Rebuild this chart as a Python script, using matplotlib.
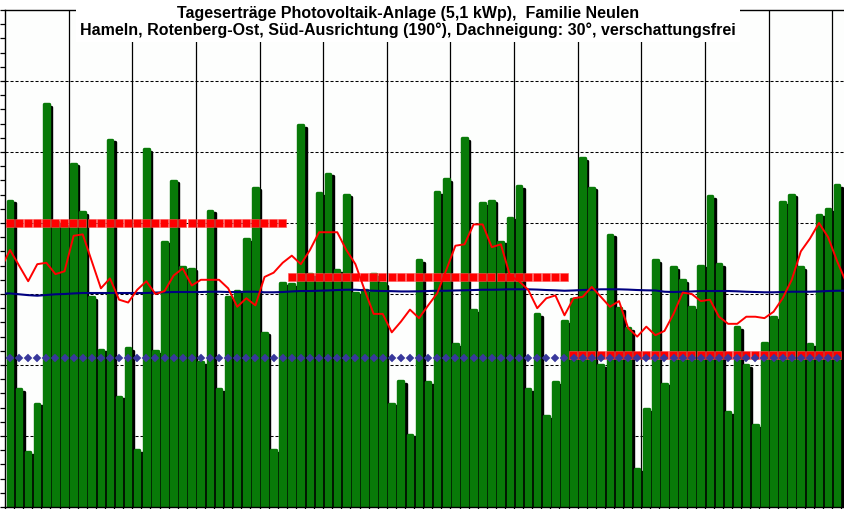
import matplotlib
matplotlib.use("Agg")
import matplotlib.pyplot as plt
import numpy as np

# ---------------- data (kWh per day, Jul-Sep) ----------------
daily_yield = [
    21.7, 8.4, 4.0, 7.4, 28.5, 20.2, 19.9, 24.3, 20.9, 14.9,
    11.2, 26.0, 7.9, 11.3, 4.1, 25.3, 11.1, 18.8, 23.1, 17.0,
    16.9, 10.3, 21.0, 8.4, 14.9, 15.3, 19.0, 22.6, 12.4, 4.1,
    15.9,
    15.8, 27.0, 16.5, 22.2, 23.6, 16.8, 22.1, 15.2, 15.4, 16.5,
    15.9, 7.4, 9.0, 5.2, 17.5, 8.9, 22.3, 23.2, 11.6, 26.1,
    14.0, 21.5, 21.7, 18.8, 20.5, 22.7, 8.4, 13.7, 6.5, 8.9,
    13.2,
    14.8, 24.7, 22.6, 10.1, 19.3, 14.1, 12.7, 2.8, 7.0, 17.5,
    8.8, 17.0, 16.1, 14.2, 17.1, 22.0, 17.2, 6.8, 12.8, 10.1,
    5.9, 11.7, 13.5, 21.6, 22.1, 17.0, 11.6, 20.7, 21.1, 22.8,
]

# monthly reference values (red squares)
month_days = [31, 31, 30]
month_value = [20.0, 16.2, 10.7]

# constant reference (blue diamonds)
reference_value = 10.5

# moving average (red line), days -1 .. 92
moving_avg = [
    16.8,
    18.1, 17.0, 15.9, 17.1, 17.2, 16.4, 16.6, 19.1, 19.2, 17.3,
    15.4, 16.1, 14.6, 14.4, 15.3, 15.9, 15.0, 15.2, 16.3, 16.8,
    15.6, 16.0, 16.0, 16.0, 15.4, 14.1, 14.7, 14.2, 16.2, 16.5,
    17.2,
    17.7, 17.1, 18.1, 19.35, 19.35, 19.35, 18.1, 17.1, 15.3, 13.6,
    13.6, 12.3, 13.05, 13.9, 13.3, 14.2, 15.05, 16.7, 18.4, 18.5,
    19.9, 19.9, 18.3, 18.5, 16.3, 15.9, 15.3, 14.0, 14.7, 14.9,
    13.5,
    14.7, 14.8, 15.5, 14.8, 14.1, 14.5, 12.6, 12.0, 12.7, 12.1,
    12.4, 13.6, 15.1, 15.0, 14.5, 14.6, 13.4, 12.9, 12.9, 13.4,
    13.4, 13.3, 13.75, 14.7, 16.0, 18.0, 18.9, 20.0, 19.0, 17.3,
    15.8,
]

# long-term average (blue line), days -1 .. 92
long_avg = [
    15.04,
    15.04, 14.98, 14.92, 14.88, 14.93, 14.98, 15.00, 15.04, 15.07, 15.07,
    15.07, 15.07, 15.07, 15.07, 15.07, 15.07, 15.10, 15.12, 15.14, 15.14,
    15.14, 15.14, 15.16, 15.16, 15.14, 15.14, 15.16, 15.16, 15.12, 15.12,
    15.14,
    15.18, 15.21, 15.21, 15.23, 15.25, 15.28, 15.30, 15.30, 15.26, 15.23,
    15.21, 15.20, 15.18, 15.18, 15.19, 15.21, 15.23, 15.23, 15.25, 15.26,
    15.28, 15.30, 15.30, 15.31, 15.33, 15.33, 15.33, 15.31, 15.28, 15.26,
    15.23,
    15.25, 15.28, 15.30, 15.33, 15.33, 15.33, 15.31, 15.28, 15.26, 15.25,
    15.16, 15.14, 15.16, 15.18, 15.21, 15.21, 15.21, 15.21, 15.19, 15.16,
    15.14, 15.12, 15.12, 15.14, 15.16, 15.16, 15.16, 15.18, 15.21, 15.23,
    15.23,
]

title_lines = [
    "Tageserträge Photovoltaik-Anlage (5,1 kWp),  Familie Neulen",
    "Hameln, Rotenberg-Ost, Süd-Ausrichtung (190°), Dachneigung: 30°, verschattungsfrei",
]

# ---------------- figure ----------------
plt.rcParams['lines.scale_dashes'] = False
W, H = 844, 509
fig = plt.figure(figsize=(W / 100, H / 100), dpi=100)
fig.patch.set_facecolor('white')

left_px, right_px, top_px, bottom_px = 5, 844, 10, 507
ax = fig.add_axes([left_px / W, (H - bottom_px) / H,
                   (right_px - left_px) / W, (bottom_px - top_px) / H])
ax.set_facecolor('#fdfefd')

n = len(daily_yield)
pitch_px = 9.09
px_per_unit_y = (bottom_px - top_px) / 35
ax.set_xlim(0, (right_px - left_px) / pitch_px)
ax.set_ylim(0, 35)

x = np.arange(n)

# grid
for yv in range(5, 35, 5):
    ax.axhline(yv, color='black', lw=0.75, ls=(0, (2.2, 1.4)), zorder=0.5)
for xv in range(7, n, 7):
    ax.axvline(xv, color='black', lw=0.9, zorder=0.5)

# bars with shadow (round joins give the rounded tops)
edge_px = 3.4
edge_pt = edge_px * 72 / 100
dx = edge_px / 2 / pitch_px
dy = edge_px / 2 / px_per_unit_y
shadow_dy = 2.6 / px_per_unit_y
vals = np.array(daily_yield)
sh = ax.bar(x + 0.37 + dx, vals - shadow_dy - dy, width=0.88 - 2 * dx, align='edge',
            color='black', edgecolor='black', linewidth=edge_pt, zorder=1)
gr = ax.bar(x + 0.10 + dx, vals - dy, width=0.88 - 2 * dx, align='edge',
            color='#087a08', edgecolor='#087a08', linewidth=edge_pt, zorder=2)
for p in list(sh) + list(gr):
    p.set_joinstyle('round')

# monthly reference squares
start = 0
for d, v in zip(month_days, month_value):
    xs = np.arange(start, start + d) + 0.52
    ax.plot(xs, [v] * d, ls='none', marker='s', ms=5.7, mfc='#ff0000',
            mec='#ff5050', mew=0.4, zorder=3)
    start += d

# constant reference diamonds
ax.plot(x + 0.55, [reference_value] * n, ls='none', marker='D', ms=3.9,
        mfc='#38389c', mec='#38389c', mew=0.3, zorder=4)

# lines
xl = np.arange(-1, n + 1) + 0.55
ax.plot(xl, long_avg, color='#000080', lw=1.5, zorder=5)
ax.plot(xl, moving_avg, color='#ff0000', lw=1.4, zorder=6)

# axes styling
ax.spines['right'].set_visible(False)
for s in ['left', 'top', 'bottom']:
    ax.spines[s].set_color('black')
    ax.spines[s].set_linewidth(1.0)
ax.set_yticks(np.arange(0, 36, 1))
ax.set_yticklabels([])
ax.set_xticks(np.arange(0, n + 1, 1))
ax.set_xticklabels([])
ax.tick_params(axis='y', direction='out', length=3.6, width=0.9, color='black')
ax.tick_params(axis='x', direction='out', length=3.0, width=0.9, color='black')

# title with white box
fig.text(408 / W, 1 - 6 / H, "\n".join(title_lines), ha='center', va='top',
         fontsize=11.5, fontweight='bold', family=['Liberation Sans', 'DejaVu Sans'],
         linespacing=1.1, color='black',
         bbox=dict(facecolor='white', edgecolor='none', pad=3.0), zorder=10)

fig.savefig('out.png', dpi=100)
